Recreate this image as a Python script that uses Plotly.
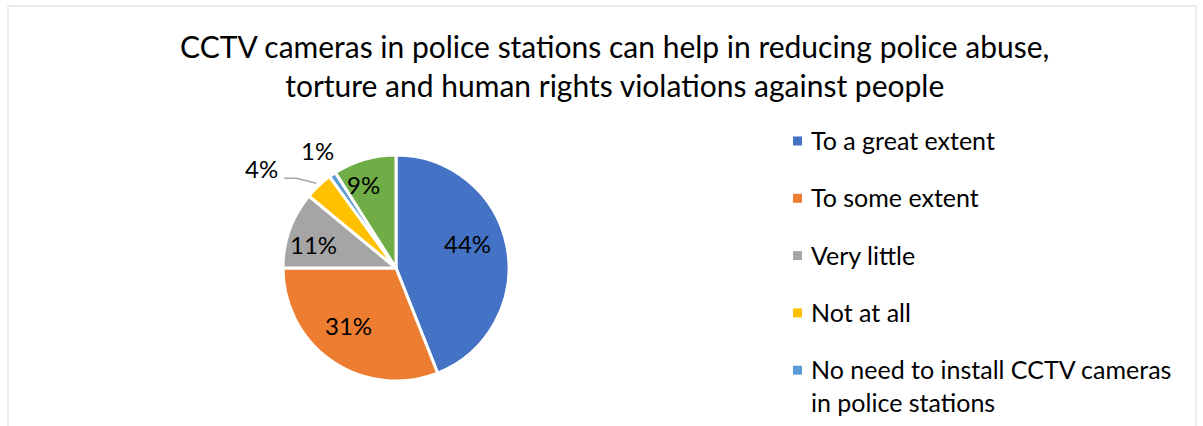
import math
import plotly.graph_objects as go

W, H = 1203, 426

title_text = "CCTV cameras in police stations can help in reducing police abuse,<br>torture and human rights violations against people"
labels = [
    "To a great extent",
    "To some extent",
    "Very little",
    "Not at all",
    "No need to install CCTV cameras<br>in police stations",
    "Don't know",
]
values = [44, 31, 11, 4, 1, 9]
colors = ["#4472C4", "#ED7D31", "#A5A5A5", "#FFC000", "#5B9BD5", "#70AD47"]
outside = [False, False, False, True, True, False]
legend_shown = 5  # the reference frame cuts the legend after five entries

FONT = "Lato"

# pie placement (pixels)
cx, cy, r = 396, 268, 113
# label placement style per slice: (radius fraction, angle shift in degrees)
label_style = [(0.67, -8), (0.66, 5), (0.76, -4), (1.03, 0), (1.03, 0), (0.79, -5)]
outside_offsets = {3: (-55, -15), 4: (-13, -21)}


def px(x):
    return x / W


def py(y):
    return 1 - y / H


fig = go.Figure()
fig.add_trace(go.Pie(
    labels=labels,
    values=values,
    textinfo="none",
    marker=dict(colors=colors, line=dict(color="#FFFFFF", width=3)),
    sort=False,
    direction="clockwise",
    rotation=0,
    showlegend=False,
    domain=dict(x=[px(cx - r), px(cx + r)], y=[py(cy + r), py(cy - r)]),
    hoverinfo="label+percent",
))

shapes = []
annotations = []

# frame
shapes.append(dict(type="rect", xref="paper", yref="paper",
                   x0=px(8), x1=px(1196), y0=py(440), y1=py(6),
                   line=dict(color="#D9D9D9", width=1), fillcolor="rgba(0,0,0,0)"))

# data labels, placed from slice mid-angles
total = sum(values)
cum = 0
for i, v in enumerate(values):
    frac, shift = label_style[i]
    mid = (cum + v / 2) / total * 2 * math.pi + math.radians(shift)
    cum += v
    ex = cx + r * frac * math.sin(mid)
    ey = cy - r * frac * math.cos(mid)
    if outside[i]:
        dx, dy = outside_offsets[i]
        lx, ly = ex + dx, ey + dy
        if i == 3:
            shapes.append(dict(type="path", xref="paper", yref="paper",
                               path=f"M {px(lx + 23)} {py(ly + 10)} L {px(lx + 35)} {py(ly + 10)} L {px(ex)} {py(ey)}",
                               line=dict(color="#A6A6A6", width=1.5)))
    else:
        lx, ly = ex, ey
    annotations.append(dict(x=px(lx), y=py(ly), xref="paper", yref="paper",
                            text=f"{v}%", showarrow=False,
                            font=dict(family=FONT, size=24, color="#000000"),
                            xanchor="center", yanchor="middle"))

# legend (manual)
leg_x, leg_y0, leg_gap = 793, 141, 57.3
for i, (lab, col) in enumerate(zip(labels[:legend_shown], colors[:legend_shown])):
    yc = leg_y0 + i * leg_gap
    shapes.append(dict(type="rect", xref="paper", yref="paper",
                       x0=px(leg_x), x1=px(leg_x + 9), y0=py(yc + 4.5), y1=py(yc - 4.5),
                       line=dict(width=0), fillcolor=col))
    annotations.append(dict(x=px(leg_x + 16), y=py(yc - 18), xref="paper", yref="paper",
                            text=lab, showarrow=False, align="left",
                            font=dict(family=FONT, size=25, color="#000000"),
                            xanchor="left", yanchor="top"))

fig.update_layout(
    width=W, height=H,
    margin=dict(l=0, r=0, t=0, b=0),
    paper_bgcolor="#FFFFFF",
    plot_bgcolor="#FFFFFF",
    title=dict(text=title_text, x=0.511, xanchor="center", y=py(58), yanchor="middle",
               font=dict(family=FONT, size=30, color="#000000")),
    shapes=shapes,
    annotations=annotations,
)

fig.write_html("out.html", config={"displayModeBar": False},
               post_script="document.body.style.margin='0';")
